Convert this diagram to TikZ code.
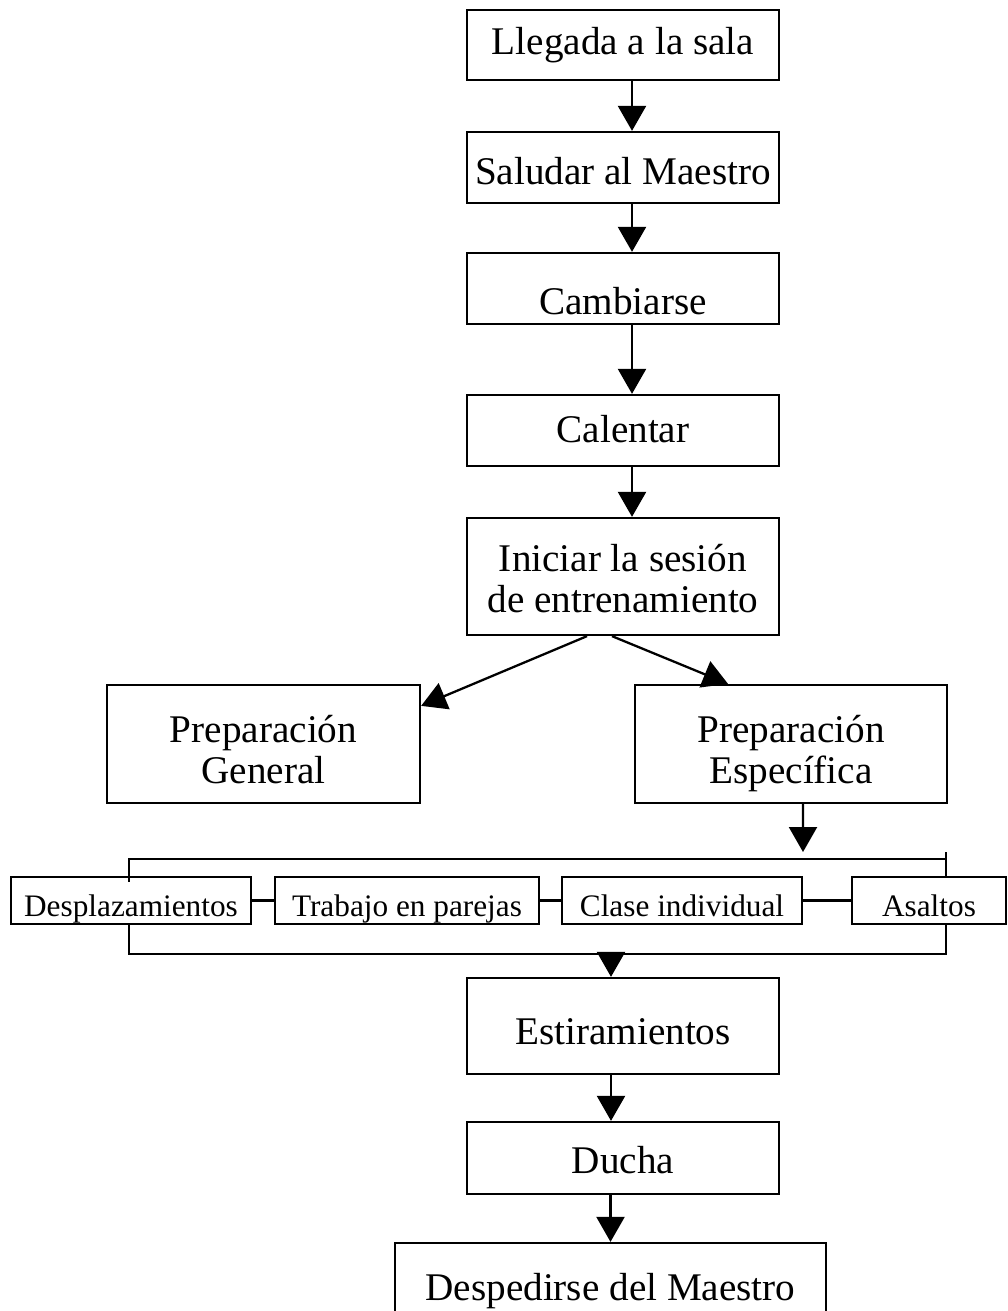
\documentclass[tikz,border=0pt]{standalone}
\usepackage{fontspec}
\setmainfont{Liberation Serif}
\usetikzlibrary{arrows.meta,positioning,calc}

\begin{document}
\begin{tikzpicture}
[   pbox/.style={draw=black, line width=1.3pt, align=center, inner sep=0pt, minimum width=6.24cm, minimum height=1.42cm, text depth=0pt, font=\fontsize{22.3}{22.8}\selectfont},
    tbox/.style={pbox, minimum height=2.34cm},
    sbox/.style={draw=black, line width=1.3pt, inner sep=0pt, minimum height=0.94cm, text height=0.62cm, text depth=0pt, font=\fontsize{17.8}{20}\selectfont},
    flow/.style={line width=1.3pt, -{Triangle[length=0.5cm,width=0.56cm]}},
    link/.style={line width=1.3pt}, ]

    \useasboundingbox (0,0) rectangle (20.16,-26.22);

    \node[pbox, minimum height=1.4cm, text height=0.4cm] (llegada) at (12.46,-0.9) {Llegada a la sala};
    \node[pbox, text height=0.7cm] (saludar) at (12.46,-3.35) {Saludar al Maestro};
    \node[pbox, text height=1.06cm] (cambiar) at (12.46,-5.77) {Cambiarse};
    \node[pbox, text height=0.46cm] (calentar) at (12.46,-8.61) {Calentar};
    \node[tbox, text height=1.42cm] (iniciar) at (12.46,-11.53) {Iniciar la sesión\\de entrenamiento};

    \node[tbox, minimum width=6.26cm, minimum height=2.36cm, text height=1.56cm] (general) at (5.27,-14.88) {Preparación\\General};
    \node[tbox, minimum height=2.36cm, text height=1.56cm] (especifica) at (15.82,-14.88) {Preparación\\Específica};

    % fila de actividades
    \node[sbox, minimum width=4.8cm] (despl) at (2.62,-18.01) {Desplazamientos};
    \node[sbox, minimum width=5.28cm] (trabajo) at (8.14,-18.01) {Trabajo en parejas};
    \node[sbox, minimum width=4.8cm] (clase) at (13.64,-18.01) {Clase individual};
    \node[sbox, minimum width=3.08cm] (asaltos) at (18.58,-18.01) {Asaltos};

    \node[pbox, minimum height=1.92cm, text height=0.72cm] (estir) at (12.46,-20.52) {Estiramientos};
    \node[pbox, minimum height=1.44cm, text height=0.6cm] (ducha) at (12.46,-23.16) {Ducha};
    \node[pbox, minimum width=8.62cm, minimum height=1.84cm, text height=0.44cm] (desped) at (12.21,-25.78) {Despedirse del Maestro};

    \coordinate (esptip) at (16.06,-17.04);
    \coordinate (tl) at (2.58,-17.18);
    \coordinate (tr) at (18.92,-17.18);
    \coordinate (trtop) at (18.92,-17.04);
    \coordinate (bl) at (2.58,-19.08);
    \coordinate (br) at (18.92,-19.08);
    \coordinate (bm) at (12.22,-19.08);

\foreach \a/\b in {llegada/saludar, saludar/cambiar, cambiar/calentar, calentar/iniciar}
{
    \draw[flow] ([xshift=0.18cm]\a.south) -- ([xshift=0.18cm]\b.north);
}

    \draw[flow] ([xshift=-0.72cm]iniciar.south) -- ([yshift=-0.44cm]general.north east);
    \draw[flow] ([xshift=-0.22cm]iniciar.south) -- ([xshift=-1.26cm]especifica.north);
    \draw[flow] ([xshift=0.24cm]especifica.south) -- (esptip);

    % llaves de la fila
    \draw[link] ([yshift=-0.12cm]tl |- despl.north) -- (tl) -- (tr);
    \draw[link] (trtop) -- (tr |- asaltos.north);
    \draw[link] (tl |- despl.south) -- (bl) -- (br) -- (br |- asaltos.south);
    \draw[link] (despl) -- (trabajo);
    \draw[link] (trabajo) -- (clase);
    \draw[link] (clase) -- (asaltos);

    \draw[flow] (bm) -- ([xshift=-0.24cm]estir.north);
    \draw[flow] ([xshift=-0.24cm]estir.south) -- ([xshift=-0.24cm]ducha.north);
    \draw[flow] (ducha.south -| desped.north) -- (desped.north);

\end{tikzpicture}
\end{document}
